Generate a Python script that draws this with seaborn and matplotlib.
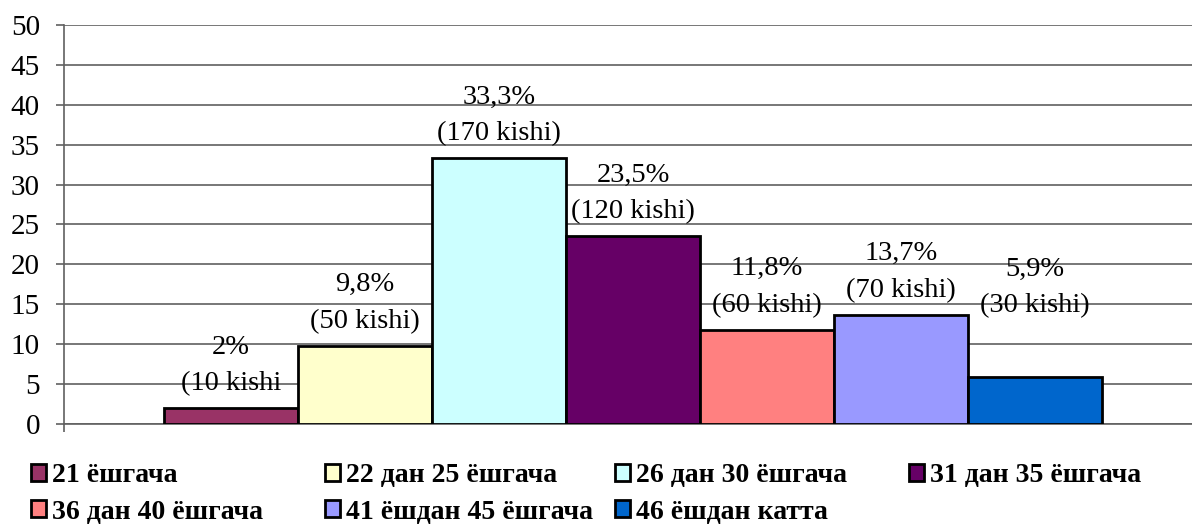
import matplotlib
matplotlib.use('Agg')
import matplotlib.pyplot as plt
from matplotlib.patches import Patch
import seaborn as sns
import pandas as pd

# age groups and their share (%)
groups = ['21 ёшгача', '22 дан 25 ёшгача', '26 дан 30 ёшгача', '31 дан 35 ёшгача',
          '36 дан 40 ёшгача', '41 ёшдан 45 ёшгача', '46 ёшдан катта']
shares = [2, 9.8, 33.3, 23.5, 11.8, 13.7, 5.9]
pct_labels = ['2%', '9,8%', '33,3%', '23,5%', '11,8%', '13,7%', '5,9%']
count_labels = ['(10 kishi', '(50 kishi)', '(170 kishi)', '(120 kishi)',
                '(60 kishi)', '(70 kishi)', '(30 kishi)']
colors = ['#993366', '#FFFFCC', '#CCFFFF', '#660066', '#FF8080', '#9999FF', '#0066CC']
y_ticks = list(range(0, 55, 5))

df = pd.DataFrame({'group': groups, 'share': shares})

sns.set_style('white')
plt.rcParams['font.family'] = ['Liberation Serif', 'DejaVu Serif']
plt.rcParams['text.color'] = 'black'

fig = plt.figure(figsize=(11.92, 5.30), dpi=100)
ax = fig.add_axes([64 / 1192, 106 / 530, 1 - 64 / 1192, 399 / 530])

sns.barplot(data=df, x='group', y='share', hue='group', palette=colors, order=groups,
            hue_order=groups, width=1, saturation=1, edgecolor='black', linewidth=2.0,
            legend=False, ax=ax, zorder=3)

# value labels above the bars (last one sits higher in the original)
extra_lift = {6: 47}
for i, (p, c) in enumerate(zip(pct_labels, count_labels)):
    ax.annotate(p + '\n' + c, xy=(i, shares[i]), xytext=(0, 12 + extra_lift.get(i, 0)),
                textcoords='offset pixels', ha='center', va='bottom', fontsize=20.5,
                linespacing=1.6, color='black', zorder=4)

ax.set_ylim(0, 50)
ax.set_yticks(y_ticks)
ax.set_xlim(-1.246, 7.172)
ax.set_xticks([-1.246])
ax.set_xticklabels([''])
ax.set_xlabel('')
ax.set_ylabel('')
ax.grid(axis='y', color='#606060', linewidth=1.2, zorder=0)
ax.set_axisbelow(True)
ax.tick_params(axis='y', which='both', left=True, length=5.8, width=1.2, color='#606060',
               pad=11.5, labelsize=21, labelcolor='black')
ax.tick_params(axis='x', bottom=True, length=5.8, width=1.2, color='#606060')
for s in ['top', 'right']:
    ax.spines[s].set_visible(False)
for s in ['left', 'bottom']:
    ax.spines[s].set_color('#606060')
    ax.spines[s].set_linewidth(1.2)

# legend: 4 equal-width columns, filled row by row
col_x = [31, 325, 615, 909]
for c, x0 in enumerate(col_x):
    idx = [k for k in (c, c + 4) if k < len(groups)]
    handles = [Patch(facecolor=colors[k], edgecolor='black', linewidth=2.0) for k in idx]
    fig.legend(handles, [groups[k] for k in idx], loc='upper left',
               bbox_to_anchor=(x0 / 1192, 1 - 463 / 530), frameon=False, borderpad=0,
               borderaxespad=0, handlelength=0.55, handleheight=0.55, handletextpad=0.2,
               labelspacing=0.42, labelcolor='black',
               prop={'family': 'Liberation Serif', 'weight': 'bold', 'size': 20})

fig.savefig('out.png', dpi=100)
